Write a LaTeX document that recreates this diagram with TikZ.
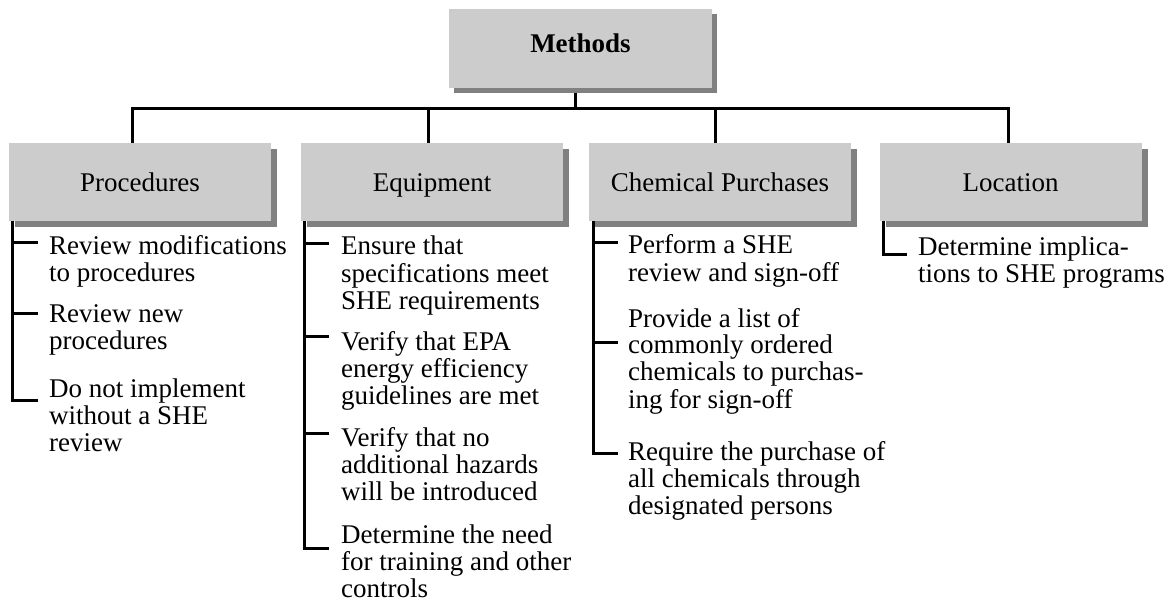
\documentclass[tikz,border=0pt]{standalone}
\usepackage{fontspec}
\setmainfont{Liberation Serif}
\usetikzlibrary{shadows}
\definecolor{boxgray}{RGB}{204,204,204}
\definecolor{shadegray}{RGB}{128,128,128}
\newcommand\itm[1]{\begin{tabular}[t]{@{}l@{}}#1\end{tabular}}
\tikzset{
  topbox/.style={rectangle, fill=boxgray, inner sep=0pt,
    minimum width=263pt, minimum height=79pt, text height=12pt, text depth=3pt,
    drop shadow={shadow xshift=5pt, shadow yshift=-5pt, fill=shadegray, opacity=1},
    font=\bfseries\fontsize{27}{32}\selectfont},
  catbox/.style={rectangle, fill=boxgray, inner sep=0pt,
    minimum width=262pt, minimum height=78pt, text height=21pt, text depth=2pt,
    drop shadow={shadow xshift=6pt, shadow yshift=-6pt, fill=shadegray, opacity=1},
    font=\fontsize{27}{27}\selectfont},
  item/.style={anchor=base west, inner sep=0pt, font=\fontsize{27}{27}\selectfont},
  conn/.style={line width=3pt, draw=black},
}
\begin{document}
\begin{tikzpicture}[x=1pt, y=-1pt]
\useasboundingbox (0,0) rectangle (1172,601);

% boxes
\node[topbox] (methods) at (580.5,48.5) {Methods};
\node[catbox] (proc) at (140,182) {Procedures};
\node[catbox] (equip) at (432,182) {Equipment};
\node[catbox] (chem) at (720,182) {Chemical Purchases};
\node[catbox] (loc) at (1010.5,182) {Location};

% tree connectors
\coordinate (mdrop) at (575,109);
\coordinate (busL) at (132,109);
\coordinate (busE) at (428,109);
\coordinate (busC) at (715,109);
\coordinate (busR) at (1008,109);
\draw[conn] (575,93) -- (mdrop);
\draw[conn] (proc.north -| busL) -- (busL) -- (busR) -- (loc.north -| busR);
\draw[conn] (busE) -- (equip.north -| busE);
\draw[conn] (busC) -- (chem.north -| busC);

% Procedures items
\node[item] (p1) at (49,255) {\itm{Review modifications\\to procedures}};
\node[item] (p2) at (49,323) {\itm{Review new\\procedures}};
\node[item] (p3) at (49,397) {\itm{Do not implement\\without a SHE\\review}};
\coordinate (pv) at (12,221);
\coordinate (pt1) at (12,243); \coordinate (pt1e) at (38,243);
\coordinate (pt2) at (12,314); \coordinate (pt2e) at (38,314);
\coordinate (pt3) at (12,400); \coordinate (pt3e) at (38,400);
\draw[conn] (pv) -- (pt3) -- (pt3e);
\draw[conn] (pt1) -- (pt1e);
\draw[conn] (pt2) -- (pt2e);

% Equipment items
\node[item] (e1) at (341,255) {\itm{Ensure that\\specifications meet\\SHE requirements}};
\node[item] (e2) at (341,350) {\itm{Verify that EPA\\energy efficiency\\guidelines are met}};
\node[item] (e3) at (341,446) {\itm{Verify that no\\additional hazards\\will be introduced}};
\node[item] (e4) at (341,543) {\itm{Determine the need\\for training and other\\controls}};
\coordinate (ev) at (304,221);
\coordinate (et1) at (304,244); \coordinate (et1e) at (329,244);
\coordinate (et2) at (304,337); \coordinate (et2e) at (329,337);
\coordinate (et3) at (304,433); \coordinate (et3e) at (329,433);
\coordinate (et4) at (304,548); \coordinate (et4e) at (329,548);
\draw[conn] (ev) -- (et4) -- (et4e);
\draw[conn] (et1) -- (et1e);
\draw[conn] (et2) -- (et2e);
\draw[conn] (et3) -- (et3e);

% Chemical Purchases items
\node[item] (c1) at (628,254) {\itm{Perform a SHE\\review and sign-off}};
\node[item] (c2) at (628,327) {\itm{Provide a list of\\commonly ordered\\chemicals to purchas-\\ing for sign-off}};
\node[item] (c3) at (628,460) {\itm{Require the purchase of\\all chemicals through\\designated persons}};
\coordinate (cv) at (593,221);
\coordinate (ct1) at (593,243); \coordinate (ct1e) at (618,243);
\coordinate (ct2) at (593,343); \coordinate (ct2e) at (618,343);
\coordinate (ct3) at (593,453); \coordinate (ct3e) at (618,453);
\draw[conn] (cv) -- (ct3) -- (ct3e);
\draw[conn] (ct1) -- (ct1e);
\draw[conn] (ct2) -- (ct2e);

% Location items
\node[item] (l1) at (918,256) {\itm{Determine implica-\\tions to SHE programs}};
\coordinate (lv) at (883,221);
\coordinate (lt1) at (883,255); \coordinate (lt1e) at (907,255);
\draw[conn] (lv) -- (lt1) -- (lt1e);
\end{tikzpicture}
\end{document}
